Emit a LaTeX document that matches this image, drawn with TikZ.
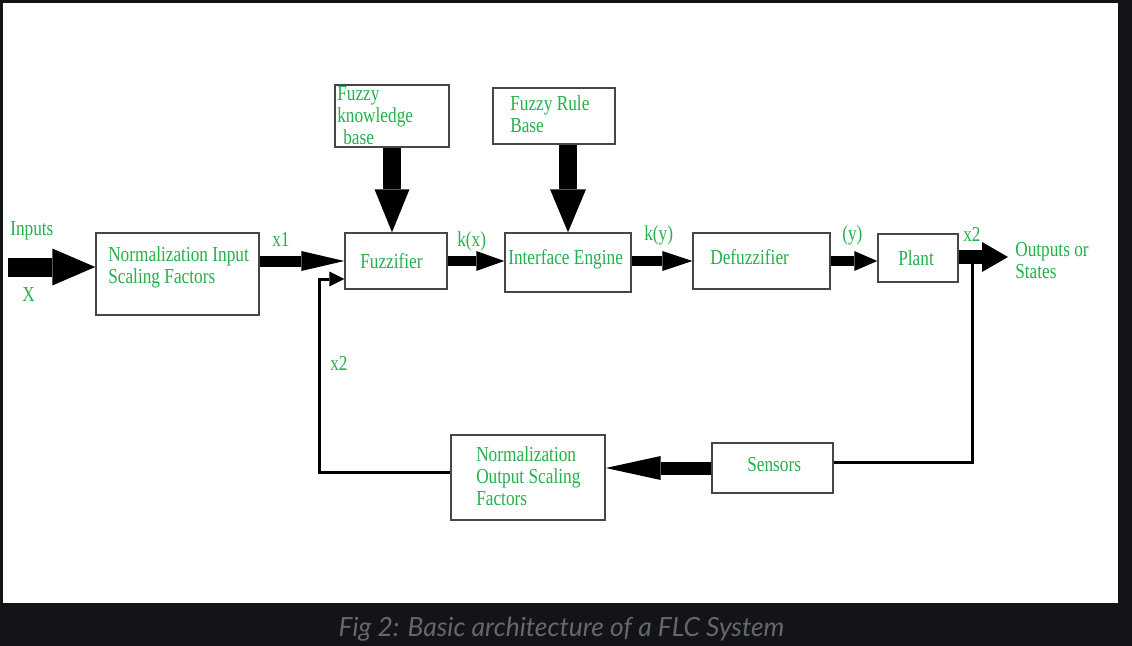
\documentclass[tikz,border=0pt]{standalone}
\usepackage{fontspec}
\usetikzlibrary{arrows.meta,calc}
\newfontfamily\tnr[FakeStretch=0.81]{Liberation Serif}
\newfontfamily\capfont{Lato}
\definecolor{bgdark}{RGB}{18,20,24}
\definecolor{capgrey}{RGB}{100,103,108}
\definecolor{txtgreen}{RGB}{34,177,76}
\definecolor{boxline}{RGB}{70,70,70}
\begin{document}
\begin{tikzpicture}[x=0.75pt,y=-0.75pt,
  box/.style={draw=boxline,line width=1.1pt,fill=white,inner sep=0pt},
  lbl/.style={text=txtgreen,font=\tnr\fontsize{16}{16.5}\selectfont,inner sep=0pt,anchor=west,align=left},
  blk/.style args={#1/#2/#3}{line width=#1,-{Triangle[length=#2,width=#3,line width=0pt]}},
  fb/.style={line width=2.25pt}]
\useasboundingbox (0,0) rectangle (1132,646);
\fill[bgdark] (0,0) rectangle (1132,646);
\fill[white] (3,3) rectangle (1118,603);

% boxes
\node[box,minimum width=122.25pt,minimum height=61.5pt] (nin) at (177.5,274) {};
\node[box,minimum width=85.5pt,minimum height=46.5pt] (fkb) at (392,116) {};
\node[box,minimum width=91.5pt,minimum height=42pt] (frb) at (554,116) {};
\node[box,minimum width=76.5pt,minimum height=42pt] (fuz) at (396,261) {};
\node[box,minimum width=94.5pt,minimum height=44.25pt] (ie) at (568,262.5) {};
\node[box,minimum width=102.75pt,minimum height=42pt] (def) at (761.5,261) {};
\node[box,minimum width=60pt,minimum height=36pt] (plant) at (918,258) {};
\node[box,minimum width=90.75pt,minimum height=37.5pt] (sen) at (772.5,468) {};
\node[box,minimum width=115.5pt,minimum height=63.75pt] (nout) at (528,477.5) {};

% box texts
\node[lbl] (tnin) at (108,267.5) {Normalization Input\\Scaling Factors};
\node[lbl] (tfkb) at (337,116) {Fuzzy\\knowledge\\\hspace{4.5pt}base};
\node[lbl] (tfrb) at (510,114.5) {Fuzzy Rule\\Base};
\node[lbl] (tfuz) at (360,261) {Fuzzifier};
\node[lbl] (tie) at (508,259) {Interface Engine};
\node[lbl] (tdef) at (710,257) {Defuzzifier};
\node[lbl] (tplant) at (898,258.5) {Plant};
\node[lbl] (tsen) at (747,465) {Sensors};
\node[lbl] (tnout) at (476,476.5) {Normalization\\Output Scaling\\Factors};

% labels
\node[lbl] (linp) at (10,231) {Inputs};
\node[lbl] (lx) at (22,295) {X};
\node[lbl] (lx1) at (272,239) {x1};
\node[lbl] (lkx) at (457,241) {k(x)};
\node[lbl] (lky) at (644,235) {k(y)};
\node[lbl] (ly) at (842,235) {(y)};
\node[lbl] (lx2a) at (963,234) {x2};
\node[lbl] (lout) at (1015,260.5) {Outputs or\\States};
\node[lbl] (lx2b) at (330,363) {x2};

% coordinates
\coordinate (inp) at (8,267);
\coordinate (outp) at (1008,257);
\coordinate (tap) at (972,257);
\coordinate (fbr) at (972,462);
\coordinate (fbl) at (319,472);
\coordinate (fbt) at (319,279);

% block arrows
\draw[blk={14.25pt/32.25pt/27.75pt}] (inp) -- (inp -| nin.west);
\draw[blk={8.25pt/32.25pt/15pt}] (nin.east |- fuz.west) -- (fuz.west);
\draw[blk={13.5pt/32.25pt/26.25pt}] (fkb.south) -- (fkb.south |- fuz.north);
\draw[blk={13.5pt/32.25pt/27pt}] (ie.north |- frb.south) -- (ie.north);
\draw[blk={7.5pt/21pt/15pt}] (fuz.east) -- (fuz.east -| ie.west);
\draw[blk={7.5pt/22.5pt/15pt}] (ie.east |- def.west) -- (def.west);
\draw[blk={7.5pt/17.25pt/15pt}] (def.east) -- (def.east -| plant.west);
\draw[blk={10.5pt/19.5pt/22.5pt}] (plant.east |- outp) -- (outp);
\draw[blk={9.75pt/41.25pt/18pt}] (sen.west) -- (sen.west -| nout.east);

% feedback lines
\draw[fb] (tap) -- (fbr) -- (fbr -| sen.east);
\draw[fb,-{Triangle[length=11.25pt,width=11.25pt,line width=0pt]}] (nout.west |- fbl) -- (fbl) -- (fbt) -- (fbt -| fuz.west);

% caption
\node[font=\capfont\itshape\fontsize{19.8}{23}\selectfont,text=capgrey,inner sep=0pt,anchor=base] (cap) at (561.5,636) {Fig 2: Basic architecture of a FLC System};
\end{tikzpicture}
\end{document}
